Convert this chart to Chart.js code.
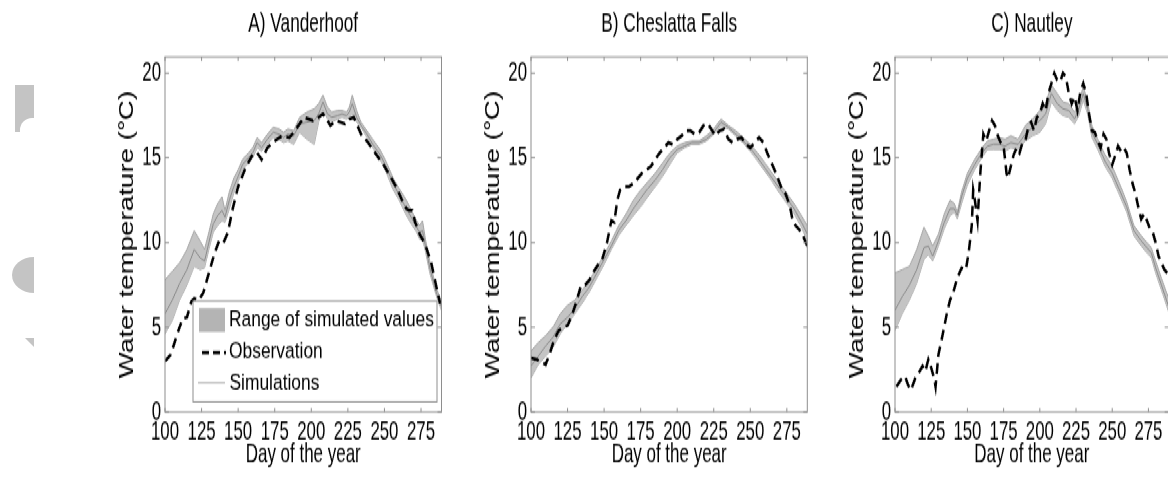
<!DOCTYPE html>
<html>
<head>
<meta charset="utf-8">
<script src="https://cdn.jsdelivr.net/npm/chart.js@4.4.1/dist/chart.umd.min.js"></script>
<style>
  html, body { margin: 0; padding: 0; background: #fff; }
  body { width: 1168px; height: 482px; overflow: hidden; position: relative; }
  #stage { position: absolute; left: 0; top: 0; width: 1168px; height: 365px; transform: scaleY(1.32055); transform-origin: 0 0; }
  #stage canvas { position: absolute; top: 0; }
  .scrap { position: absolute; background: #c4c4c4; }
</style>
</head>
<body>
<div class="scrap" style="left:15px;top:85px;width:19px;height:47px"></div>
<div style="position:absolute;left:20px;top:118px;width:14px;height:14px;background:#fff;border-top-left-radius:12px"></div>
<div class="scrap" style="left:12px;top:257px;width:22px;height:36px;border-radius:22px 0 0 22px / 18px 0 0 18px"></div>
<div class="scrap" style="left:25px;top:338px;width:9px;height:9px;clip-path:polygon(0 0,100% 0,100% 100%)"></div>
<div id="stage">
  <canvas id="chart-a" width="340" height="365" style="left:115px"></canvas>
  <canvas id="chart-b" width="340" height="365" style="left:481px"></canvas>
  <canvas id="chart-c" width="340" height="365" style="left:845px"></canvas>
</div>
<script>
const X_TICKS = [100, 125, 150, 175, 200, 225, 250, 275];
const Y_TICKS = [0, 5, 10, 15, 20];

// A) Vanderhoof
const vanDays = [100,105,110,115,120,124,127,130,133,136,139,141,144,147,150,153,157,160,163,166,170,174,178,181,184,188,192,197,202,205,208,211,214,218,221,224,226,228,231,234,238,242,247,251,256,260,265,269,272,274,276,278,281,284,286,289];
const vanHigh = [7.8,8.3,8.8,9.6,10.7,10.1,9.6,10.6,11.7,12.3,12.7,11.9,13.0,13.8,14.3,14.9,15.3,15.6,16.2,15.9,16.4,16.8,16.7,16.5,16.7,16.6,17.4,17.7,17.9,18.2,18.7,18.0,17.7,17.8,17.8,17.7,18.0,18.7,17.8,17.1,16.6,16.1,15.5,14.8,13.8,13.2,12.5,11.8,11.3,11.0,11.3,10.2,8.9,7.8,7.2,6.5];
const vanLow = [4.6,5.4,6.6,7.5,8.6,8.4,8.5,9.6,10.6,11.0,11.3,11.2,12.0,12.9,13.6,14.3,14.7,15.0,15.6,15.4,15.8,16.2,16.1,15.9,16.0,15.8,16.5,16.1,15.8,17.1,17.9,17.3,17.1,17.3,17.4,17.3,17.4,17.6,17.1,16.8,16.2,15.6,14.9,14.2,13.1,12.5,11.6,11.0,10.6,10.2,10.2,9.5,8.2,7.3,6.7,6.0];
const vanMid = [5.8,6.6,7.6,8.4,9.6,9.1,8.9,10.0,11.1,11.6,11.9,11.5,12.5,13.3,13.9,14.6,15.0,15.3,15.9,15.6,16.1,16.5,16.4,16.2,16.4,16.3,17.0,17.1,17.2,17.6,18.3,17.6,17.4,17.5,17.6,17.5,17.7,18.2,17.4,16.9,16.4,15.8,15.2,14.5,13.5,12.8,12.0,11.4,10.9,10.6,10.7,9.8,8.5,7.5,6.9,6.2];
const vanObsDays = [100,104,108,112,115,118,120,123,126,130,134,137,140,143,146,150,155,160,163,166,170,175,180,185,188,192,195,198,201,205,208,211,213,217,220,223,226,229,232,235,238,242,246,250,254,258,262,265,267,269,271,274,276,279,282,285,288];
const vanObs = [3.0,3.4,4.5,5.5,5.6,6.5,6.7,6.6,7.0,8.2,9.4,10.1,10.0,10.6,11.9,13.3,14.4,15.2,15.3,14.9,15.6,16.0,16.3,16.2,16.5,17.0,17.4,17.3,17.2,17.4,17.6,17.2,16.9,17.2,17.1,17.0,17.3,17.4,16.8,16.2,16.0,15.5,15.0,14.5,13.9,13.3,12.5,12.0,11.9,11.9,11.2,10.5,10.2,9.6,8.8,7.6,6.4];

// B) Cheslatta Falls
const chesDays = [100,105,110,115,120,125,130,135,140,145,150,155,160,165,170,175,180,185,190,195,200,205,210,215,220,225,230,235,240,245,250,255,260,265,270,275,280,285,289];
const chesLow = [2.0,2.8,3.3,3.8,4.6,5.2,5.8,6.4,7.1,7.9,8.7,9.6,10.4,11.0,11.6,12.1,12.7,13.3,13.9,14.6,15.3,15.6,15.8,15.8,16.0,16.4,16.9,16.7,16.3,15.9,15.4,14.8,14.2,13.6,12.9,12.3,11.7,10.9,10.1];
const chesHigh = [3.6,4.1,4.5,5.0,5.8,6.3,6.6,7.2,7.8,8.5,9.3,10.1,11.0,11.7,12.5,13.1,13.6,14.1,14.7,15.3,15.7,15.9,16.0,16.0,16.3,16.7,17.3,16.9,16.6,16.2,15.8,15.3,14.7,14.1,13.5,12.9,12.3,11.6,11.0];
const chesMid = [2.7,3.3,3.9,4.4,5.2,5.6,6.1,6.8,7.4,8.2,9.0,9.8,10.7,11.3,12.0,12.6,13.2,13.7,14.3,15.0,15.5,15.7,15.9,15.9,16.1,16.5,17.1,16.8,16.4,16.0,15.6,15.0,14.4,13.8,13.2,12.6,12.0,11.2,10.5];
const chesObsDays = [100,104,108,110,113,116,119,122,125,128,131,134,137,140,143,146,149,152,155,157,159,161,164,167,170,173,176,179,182,185,188,191,194,197,200,203,206,209,212,215,218,221,224,226,229,232,235,238,241,244,247,250,253,256,259,262,265,268,271,274,277,279,281,283,285,287,289];
const chesObs = [3.2,3.1,2.9,2.8,3.5,4.3,4.8,5.0,5.1,5.7,6.5,7.4,7.5,7.8,8.3,8.7,9.1,10.0,11.3,11.2,12.5,13.1,13.3,13.3,13.5,13.8,14.1,14.3,14.5,14.9,15.3,15.6,15.9,15.8,16.1,16.3,16.6,16.6,16.4,16.5,16.9,17.0,16.6,16.3,16.6,16.7,16.1,15.9,16.1,16.2,15.8,15.6,15.9,16.2,15.9,15.2,14.6,14.0,13.3,12.9,12.2,11.3,11.0,10.8,10.6,10.2,9.8];

// C) Nautley
const nauDays = [100,105,110,115,120,123,126,130,134,138,141,143,146,150,155,160,164,168,172,176,180,185,190,195,200,204,208,212,216,220,224,227,230,233,236,240,245,250,255,260,265,270,274,277,280,284,289];
const nauLow = [4.8,5.8,6.6,7.6,9.0,9.3,8.9,9.8,10.8,11.6,11.8,11.4,12.3,13.4,14.3,15.0,15.5,15.5,15.5,15.4,15.6,15.5,16.0,16.3,16.5,17.0,18.3,17.8,17.5,17.4,17.0,17.5,18.4,17.6,16.2,15.5,14.5,13.8,12.8,11.8,10.4,9.8,9.4,9.1,8.2,7.2,5.9];
const nauHigh = [8.2,8.4,8.6,9.6,10.9,10.4,9.8,10.5,11.7,12.5,12.3,11.8,13.0,14.1,14.9,15.6,16.0,16.1,16.2,16.1,16.3,16.1,16.9,17.3,17.8,18.2,19.3,18.8,18.3,18.2,17.7,18.3,19.2,18.3,16.9,16.1,15.2,14.5,13.5,12.4,11.0,10.4,10.0,9.7,8.9,7.9,6.7];
const nauMid = [6.0,6.8,7.5,8.4,9.7,9.8,9.2,10.1,11.2,12.0,12.0,11.6,12.7,13.8,14.6,15.3,15.7,15.8,15.8,15.7,15.9,15.8,16.4,16.8,17.2,17.6,18.8,18.2,17.9,17.8,17.3,17.9,18.8,17.9,16.5,15.8,14.8,14.1,13.1,12.1,10.7,10.1,9.7,9.4,8.5,7.5,6.2];
const nauObsDays = [101,104,107,109,111,114,117,119,121,123,125,127,128,130,133,136,138,140,143,146,149,151,153,154,155,157,158,159,161,163,165,167,169,171,173,175,177,178,180,182,184,186,188,190,192,194,196,198,200,202,204,206,208,210,212,214,216,218,220,222,224,226,228,230,232,234,236,238,240,242,244,246,248,250,252,254,256,258,260,262,264,266,268,270,272,274,276,278,280,282,284,286,288];
const nauObs = [1.5,1.9,2.1,1.6,1.3,2.0,2.4,2.7,2.4,3.1,2.6,2.0,1.5,3.4,4.6,5.9,6.6,7.0,7.9,8.5,8.4,9.5,11.0,13.1,12.6,11.3,12.8,14.2,16.4,16.0,16.6,17.2,16.9,16.3,15.9,15.7,14.1,13.8,14.5,15.2,15.6,15.3,15.9,16.0,16.8,17.1,16.6,17.4,17.6,18.2,17.8,18.8,19.4,20.0,19.6,19.5,20.0,19.8,18.8,18.2,18.6,17.8,18.9,19.4,18.8,17.6,16.6,16.5,16.0,15.6,16.4,16.1,15.2,14.6,15.1,15.7,15.4,15.6,15.3,14.3,13.5,12.9,12.1,11.4,11.7,11.3,10.8,10.6,10.0,9.2,8.8,8.4,8.2];

const FONT = "'Liberation Sans', Arial, Helvetica, sans-serif";
const CONDENSE = 0.82; // no narrow face installed: squeeze axis text like Helvetica Narrow
const FRAME = "#8e8e8e";
const BAND = "#c4c4c4";
const BAND_EDGE = "#a6a6a6";
const SIM = "#8a8a8a";

const pts = (xs, ys) => xs.map((x, i) => ({ x, y: ys[i] }));

// squeeze horizontal text drawn by the scales and title; rotated text is left alone
const condensePlugin = {
  id: "condense",
  beforeDraw(chart) {
    const base = CanvasRenderingContext2D.prototype.fillText;
    chart.ctx.fillText = function (text, x, y, maxWidth) {
      const m = this.getTransform();
      if (m.b !== 0 || m.c !== 0) {
        return maxWidth === undefined ? base.call(this, text, x, y) : base.call(this, text, x, y, maxWidth);
      }
      this.save();
      this.translate(x, y);
      this.scale(CONDENSE, 1);
      if (maxWidth === undefined) base.call(this, text, 0, 0);
      else base.call(this, text, 0, 0, maxWidth / CONDENSE);
      this.restore();
    };
  },
  beforeDatasetsDraw(chart) {
    delete chart.ctx.fillText;
  },
};

const framePlugin = {
  id: "frame",
  afterDatasetsDraw(chart) {
    const { ctx, chartArea: a, scales: { x, y } } = chart;
    ctx.save();
    ctx.strokeStyle = FRAME;
    ctx.lineWidth = 1;
    ctx.strokeRect(a.left, a.top, a.right - a.left, a.bottom - a.top);
    ctx.beginPath();
    X_TICKS.forEach((v) => {
      const px = x.getPixelForValue(v);
      ctx.moveTo(px, a.bottom); ctx.lineTo(px, a.bottom - 3);
      ctx.moveTo(px, a.top); ctx.lineTo(px, a.top + 3);
    });
    Y_TICKS.forEach((v) => {
      const py = y.getPixelForValue(v);
      ctx.moveTo(a.left, py); ctx.lineTo(a.left + 4, py);
      ctx.moveTo(a.right, py); ctx.lineTo(a.right - 4, py);
    });
    ctx.stroke();
    ctx.restore();
  },
};

const legendPlugin = {
  id: "legendBox",
  afterDraw(chart) {
    const { ctx, chartArea: a } = chart;
    const l = a.left, b = a.bottom;
    const w = a.right - 4.5 - (l + 28);
    ctx.save();
    ctx.fillStyle = "#fff";
    ctx.fillRect(l + 28, b - 84, w, 76.4);
    ctx.strokeStyle = FRAME;
    ctx.lineWidth = 1;
    ctx.strokeRect(l + 28, b - 84, w, 76.4);
    ctx.fillStyle = "#b4b4b4";
    ctx.fillRect(l + 34, b - 78.7, 26, 18.2);
    ctx.strokeStyle = "#000";
    ctx.lineWidth = 2.5;
    ctx.setLineDash([7, 4]);
    ctx.beginPath();
    ctx.moveTo(l + 37, b - 44.9); ctx.lineTo(l + 61, b - 44.9);
    ctx.stroke();
    ctx.setLineDash([]);
    ctx.strokeStyle = "#a8a8a8";
    ctx.lineWidth = 1;
    ctx.beginPath();
    ctx.moveTo(l + 33, b - 22.2); ctx.lineTo(l + 60, b - 22.2);
    ctx.stroke();
    ctx.fillStyle = "#000";
    ctx.font = `17.4px ${FONT}`;
    ctx.textBaseline = "alphabetic";
    ctx.fillText("Range of simulated values", l + 64, b - 64.6);
    ctx.fillText("Observation", l + 64, b - 40.7);
    ctx.fillText("Simulations", l + 64.5, b - 16.7);
    ctx.restore();
  },
};

function makePanel(id, title, days, low, high, mid, obsDays, obs, padRight, extra) {
  const tickFont = { family: FONT, size: 20.5 };
  return new Chart(document.getElementById(id), {
    type: "line",
    data: {
      datasets: [
        { label: "Observation", data: pts(obsDays, obs), borderColor: "#000", borderWidth: 2.5, borderDash: [8, 5], pointRadius: 0, fill: false },
        { label: "Simulations", data: pts(days, mid), borderColor: SIM, borderWidth: 1, pointRadius: 0, fill: false },
        { label: "Range max", data: pts(days, high), borderColor: BAND_EDGE, borderWidth: 1, backgroundColor: BAND, pointRadius: 0, fill: "+1" },
        { label: "Range min", data: pts(days, low), borderColor: BAND_EDGE, borderWidth: 1, pointRadius: 0, fill: false },
      ],
    },
    options: {
      responsive: false,
      animation: false,
      events: [],
      layout: { padding: { right: padRight } },
      plugins: {
        legend: { display: false },
        tooltip: { enabled: false },
        title: {
          display: true, text: title, fullSize: false, color: "#000",
          font: { family: FONT, size: 21, weight: "normal" },
          padding: { top: 5.2, bottom: 12.8 },
        },
      },
      scales: {
        x: {
          type: "linear", min: 100, max: 289,
          afterBuildTicks: (s) => { s.ticks = X_TICKS.map((v) => ({ value: v })); },
          afterFit: (s) => { s.height = 53; },
          grid: { display: false, drawTicks: false }, border: { display: false },
          ticks: { color: "#000", font: tickFont, padding: 3, maxRotation: 0, autoSkip: false },
          title: { display: true, text: "Day of the year", color: "#000", font: { family: FONT, size: 20.7 }, padding: { top: 0, bottom: 8.5 } },
        },
        y: {
          type: "linear", min: 0, max: 20.95,
          afterBuildTicks: (s) => { s.ticks = Y_TICKS.map((v) => ({ value: v })); },
          afterFit: (s) => { s.width = 50; },
          grid: { display: false, drawTicks: false }, border: { display: false },
          ticks: { color: "#000", font: tickFont, padding: 4 },
          title: { display: true, text: "Water temperature (°C)", color: "#000", font: { family: FONT, size: 21 }, padding: { top: 0, bottom: 0 } },
        },
      },
    },
    plugins: [condensePlugin, framePlugin, ...extra],
  });
}

makePanel("chart-a", "A) Vanderhoof", vanDays, vanLow, vanHigh, vanMid, vanObsDays, vanObs, 13.5, [legendPlugin]);
makePanel("chart-b", "B) Cheslatta Falls", chesDays, chesLow, chesHigh, chesMid, chesObsDays, chesObs, 13.7, []);
makePanel("chart-c", "C) Nautley", nauDays, nauLow, nauHigh, nauMid, nauObsDays, nauObs, 16.3, []);
</script>
</body>
</html>
